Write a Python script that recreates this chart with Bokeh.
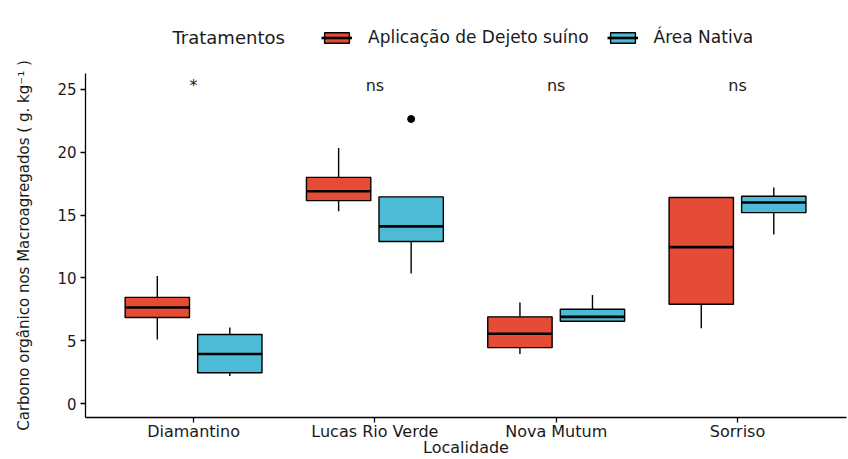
from bokeh.plotting import figure
from bokeh.layouts import column
from bokeh.models import Range1d, FixedTicker, Legend, LegendItem, Label, ColumnDataSource
from bokeh.core.properties import value
from bokeh.embed import file_html
from bokeh.resources import INLINE

# ---------------- data ----------------
categories = ["Diamantino", "Lucas Rio Verde", "Nova Mutum", "Sorriso"]
treatments = ["Aplicação de Dejeto suíno", "Área Nativa"]
colors = ["#E64B35", "#4DBBD5"]

apl_lower = [5.1, 15.3, 3.95, 6.0]
apl_q1 = [6.85, 16.15, 4.45, 7.9]
apl_median = [7.65, 16.9, 5.55, 12.45]
apl_q3 = [8.45, 18.0, 6.9, 16.4]
apl_upper = [10.15, 20.35, 8.05, 16.45]

nat_lower = [2.2, 10.35, 6.5, 13.45]
nat_q1 = [2.45, 12.9, 6.55, 15.2]
nat_median = [3.95, 14.1, 6.9, 16.0]
nat_q3 = [5.5, 16.45, 7.5, 16.5]
nat_upper = [6.05, 16.45, 8.65, 17.2]

outlier_category = ["Lucas Rio Verde"]
outlier_treatment = ["Área Nativa"]
outlier_value = [22.65]

significance = ["*", "ns", "ns", "ns"]
significance_y = 25.3
y_ticks = [0, 5, 10, 15, 20, 25]
legend_title = "Tratamentos"

# ---------------- style ----------------
FONT = "DejaVu Sans"
TEXT = "#1a1a1a"
BOX_W = 0.355
DODGE = {treatments[0]: -0.2, treatments[1]: 0.2}

# ---------------- main plot ----------------
p = figure(width=848, height=409,
           x_range=Range1d(0.404, 4.601), y_range=Range1d(-1.11, 26.27),
           output_backend="svg", toolbar_location=None,
           min_border_left=85, min_border_right=2,
           min_border_top=23, min_border_bottom=20)
p.outline_line_color = None
p.xgrid.visible = False
p.ygrid.visible = False

series = {
    treatments[0]: (apl_lower, apl_q1, apl_median, apl_q3, apl_upper),
    treatments[1]: (nat_lower, nat_q1, nat_median, nat_q3, nat_upper),
}
sources = {}
for t, col in zip(treatments, colors):
    lo, q1, med, q3, up = series[t]
    xs = [i + 1 + DODGE[t] for i in range(len(categories))]
    src = ColumnDataSource(dict(
        x=xs, xl=[x - BOX_W / 2 for x in xs], xr=[x + BOX_W / 2 for x in xs],
        lo=lo, q1=q1, med=med, q3=q3, up=up))
    sources[t] = src
    p.segment(x0="x", y0="lo", x1="x", y1="q1", source=src, line_color="black", line_width=1.4)
    p.segment(x0="x", y0="q3", x1="x", y1="up", source=src, line_color="black", line_width=1.4)
    p.vbar(x="x", width=BOX_W, bottom="q1", top="q3", source=src,
           fill_color=col, line_color="black", line_width=1.4)
    p.segment(x0="xl", y0="med", x1="xr", y1="med", source=src,
              line_color="black", line_width=2.6)

# outliers
ox = [categories.index(c) + 1 + DODGE[t] for c, t in zip(outlier_category, outlier_treatment)]
p.scatter(x=ox, y=outlier_value, size=7, color="black")

# significance labels
p.text(x=[i + 1 for i in range(len(categories))], y=[significance_y] * len(categories),
       text=significance, text_align="center", text_baseline="middle",
       text_font=value(FONT), text_font_size="16px", text_color=TEXT)

# axes
for ax in (p.xaxis[0], p.yaxis[0]):
    ax.axis_line_color = "black"
    ax.axis_line_width = 1.3
    ax.major_tick_line_color = "black"
    ax.major_tick_line_width = 1.3
    ax.major_tick_in = 0
    ax.major_tick_out = 5
    ax.minor_tick_line_color = None
    ax.major_label_text_font = FONT
    ax.major_label_text_color = TEXT
    ax.axis_label_text_font = FONT
    ax.axis_label_text_font_style = "normal"
    ax.axis_label_text_color = TEXT

p.xaxis.ticker = FixedTicker(ticks=[i + 1 for i in range(len(categories))])
p.xaxis.major_label_overrides = {i + 1: c for i, c in enumerate(categories)}
p.xaxis.major_label_text_font_size = "16px"
p.xaxis.axis_label = "Localidade"
p.xaxis.axis_label_text_font_size = "16px"
p.xaxis.major_label_standoff = -1
p.xaxis.axis_label_standoff = -6

p.yaxis.ticker = FixedTicker(ticks=y_ticks)
p.yaxis.major_label_text_font_size = "15px"
p.yaxis.axis_label = "Carbono orgânico nos Macroagregados ( g. kg⁻¹ )"
p.yaxis.axis_label_text_font_size = "15px"
p.yaxis.major_label_standoff = 4
p.yaxis.axis_label_standoff = 21

# ---------------- legend strip (hidden key renderers share the boxplot sources) ----------------
lg = figure(width=848, height=50, x_range=Range1d(-1, 0), y_range=Range1d(-1, 0),
            output_backend="svg", toolbar_location=None, min_border=0,
            x_axis_location=None, y_axis_location=None)
lg.outline_line_color = None
lg.xgrid.visible = False
lg.ygrid.visible = False

items = []
for t, col in zip(treatments, colors):
    key_box = lg.vbar(x="x", width=BOX_W, bottom="q1", top="q3", source=sources[t],
                      fill_color=col, line_color="black", line_width=1.4, visible=False)
    key_med = lg.segment(x0="xl", y0="med", x1="xr", y1="med", source=sources[t],
                         line_color="black", line_width=2.6, visible=False)
    items.append(LegendItem(label=t, renderers=[key_box, key_med]))

legend = Legend(items=items, orientation="horizontal", location=(236, 3),
                glyph_width=31, glyph_height=13, label_standoff=16, spacing=18,
                padding=0, margin=0, border_line_color=None, background_fill_alpha=0,
                inactive_fill_alpha=0,
                label_text_font=FONT, label_text_font_size="17px", label_text_color=TEXT,
                label_height=13)
lg.add_layout(legend)
lg.add_layout(Label(x=87, y=13, x_units="screen", y_units="screen", text=legend_title,
                    text_font=FONT, text_font_size="18px", text_color=TEXT,
                    text_baseline="middle", text_align="left"))

layout = column(lg, p, spacing=0)
open("out.html", "w").write(file_html(layout, INLINE))
